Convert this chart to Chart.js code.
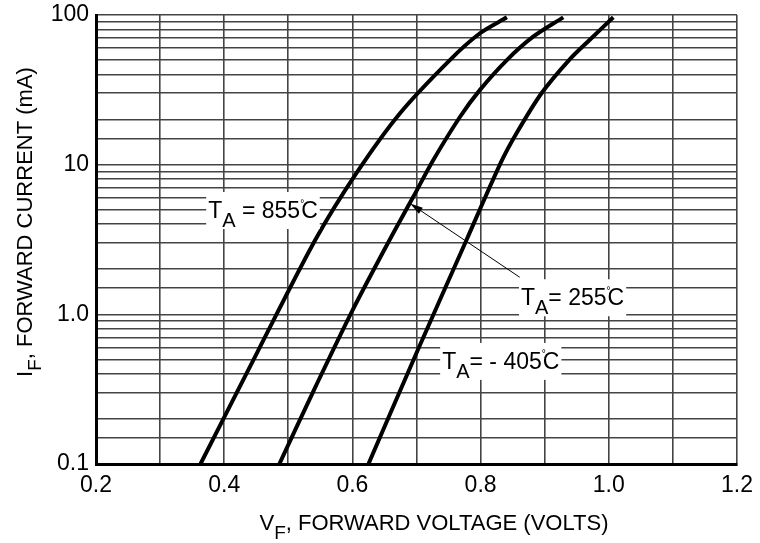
<!DOCTYPE html>
<html lang="en">
<head>
<meta charset="UTF-8">
<title>Forward Voltage vs Forward Current</title>
<script src="https://cdn.jsdelivr.net/npm/chart.js"></script>
<style>
  html, body { margin: 0; padding: 0; background: #fff; }
  #wrap { width: 760px; height: 543px; }
</style>
</head>
<body>
<div id="wrap"><canvas id="vfChart" width="760" height="543"></canvas></div>
<script>
// curves: forward voltage (V) vs forward current (mA)
const vf85 = [0.363, 0.452, 0.542, 0.606, 0.674, 0.752, 0.799, 0.841];
const if85 = [0.1, 0.562, 3.14, 8.75, 22.0, 50.0, 75.5, 96.5];

const vf25 = [0.486, 0.542, 0.599, 0.658, 0.695, 0.726, 0.768, 0.799, 0.841, 0.882, 0.929];
const if25 = [0.1, 0.325, 1.04, 3.14, 6.1, 10.7, 20.9, 31.6, 50.0, 71.6, 96.5];

const vfM40 = [0.625, 0.702, 0.778, 0.831, 0.856, 0.895, 0.938, 0.970, 1.007];
const ifM40 = [0.1, 0.578, 3.14, 10.2, 16.2, 30.0, 50.0, 68.1, 96.5];

// axis grid and tick labels
const xGrid = [0.2, 0.3, 0.4, 0.5, 0.6, 0.7, 0.8, 0.9, 1.0, 1.1, 1.2];
const xLabels = { 0.2: '0.2', 0.4: '0.4', 0.6: '0.6', 0.8: '0.8', 1.0: '1.0', 1.2: '1.2' };
const yGrid = [0.1, 0.15, 0.2, 0.3, 0.4, 0.5, 0.6, 0.7, 0.8, 0.9,
               1, 1.5, 2, 3, 4, 5, 6, 7, 8, 9,
               10, 15, 20, 30, 40, 50, 60, 70, 80, 90, 100];
const yLabels = { 0.1: '0.1', 1: '1.0', 10: '10', 100: '100' };

// curve labels (text runs, anchored at left/baseline in data units)
const curveLabels = [
  { v: 0.375, i: 4.40, runs: [{ t: 'T' }, { t: 'A', sub: true }, { t: ' = 855' }, { t: '°', deg: true }, { t: 'C' }] },
  { v: 0.863, i: 1.15, runs: [{ t: 'T' }, { t: 'A', sub: true }, { t: '= 255' }, { t: '°', deg: true }, { t: 'C' }] },
  { v: 0.740, i: 0.432, runs: [{ t: 'T' }, { t: 'A', sub: true }, { t: '= - 405' }, { t: '°', deg: true }, { t: 'C' }] }
];
// arrow pointing from the 25 label to its curve
const arrowFrom = { v: 0.861, i: 1.77 };
const arrowTo = { v: 0.690, i: 5.5 };

const FONT = '"Liberation Sans", Arial, sans-serif';
Chart.defaults.font.family = FONT;
Chart.defaults.color = '#000';

function pts(xs, ys) {
  return xs.map((v, k) => ({ x: v, y: ys[k] }));
}

function fontFor(r, size) {
  if (r.sub) return Math.round(size * 0.85) + 'px ' + FONT;
  if (r.deg) return Math.round(size * 0.42) + 'px ' + FONT;
  return size + 'px ' + FONT;
}

function runsWidth(ctx, runs, size) {
  let w = 0;
  runs.forEach(r => {
    ctx.font = fontFor(r, size);
    w += ctx.measureText(r.t).width + (r.deg ? -3 : 0);
  });
  return w;
}

function drawRuns(ctx, x, y, runs, size) {
  let cx = x;
  ctx.textAlign = 'left';
  ctx.textBaseline = 'alphabetic';
  runs.forEach(r => {
    ctx.font = fontFor(r, size);
    let dy = 0;
    if (r.sub) dy = size * 0.4;
    if (r.deg) dy = -size * 0.5;
    ctx.fillText(r.t, cx, y + dy);
    cx += ctx.measureText(r.t).width + (r.deg ? -3 : 0);
  });
}

const annotations = {
  id: 'annotations',
  afterDatasetsDraw(chart) {
    const { ctx, scales: { x, y } } = chart;
    ctx.save();

    // arrow
    const x1 = x.getPixelForValue(arrowFrom.v), y1 = y.getPixelForValue(arrowFrom.i);
    const x2 = x.getPixelForValue(arrowTo.v), y2 = y.getPixelForValue(arrowTo.i);
    const ang = Math.atan2(y2 - y1, x2 - x1);
    ctx.strokeStyle = '#000';
    ctx.lineWidth = 1;
    ctx.beginPath();
    ctx.moveTo(x1, y1);
    ctx.lineTo(x2 - 10 * Math.cos(ang), y2 - 10 * Math.sin(ang));
    ctx.stroke();
    ctx.fillStyle = '#000';
    ctx.beginPath();
    ctx.moveTo(x2, y2);
    ctx.lineTo(x2 - 13 * Math.cos(ang) + 3.5 * Math.sin(ang), y2 - 13 * Math.sin(ang) - 3.5 * Math.cos(ang));
    ctx.lineTo(x2 - 13 * Math.cos(ang) - 3.5 * Math.sin(ang), y2 - 13 * Math.sin(ang) + 3.5 * Math.cos(ang));
    ctx.closePath();
    ctx.fill();

    // curve labels on white boxes
    const size = 23;
    curveLabels.forEach(l => {
      const lx = x.getPixelForValue(l.v);
      const ly = y.getPixelForValue(l.i);
      const w = runsWidth(ctx, l.runs, size);
      ctx.fillStyle = '#fff';
      ctx.fillRect(lx - 2, ly - 26, w + 4, 37);
      ctx.fillStyle = '#000';
      drawRuns(ctx, lx, ly, l.runs, size);
    });
    ctx.restore();
  },
  afterDraw(chart) {
    const { ctx } = chart;
    ctx.save();
    ctx.fillStyle = '#000';
    const size = 22;

    // x title
    const xRuns = [{ t: 'V' }, { t: 'F', sub: true }, { t: ', FORWARD VOLTAGE (VOLTS)' }];
    const xw = runsWidth(ctx, xRuns, size);
    drawRuns(ctx, 434 - xw / 2, 530, xRuns, size);

    // y title, rotated
    const yRuns = [{ t: 'I' }, { t: 'F', sub: true }, { t: ', FORWARD CURRENT (mA)' }];
    const yw = runsWidth(ctx, yRuns, size);
    ctx.translate(32, 222);
    ctx.rotate(-Math.PI / 2);
    drawRuns(ctx, -yw / 2, 0, yRuns, size);
    ctx.restore();
  }
};

const lineStyle = {
  borderColor: '#000',
  borderWidth: 4,
  pointRadius: 0,
  fill: false,
  tension: 0.3
};

new Chart(document.getElementById('vfChart'), {
  type: 'line',
  data: {
    datasets: [
      Object.assign({ label: 'TA = 85°C', data: pts(vf85, if85) }, lineStyle),
      Object.assign({ label: 'TA = 25°C', data: pts(vf25, if25) }, lineStyle),
      Object.assign({ label: 'TA = -40°C', data: pts(vfM40, ifM40) }, lineStyle)
    ]
  },
  options: {
    responsive: false,
    animation: false,
    layout: { padding: { left: 0, top: 15, right: 23, bottom: 0 } },
    plugins: {
      legend: { display: false },
      tooltip: { enabled: false }
    },
    scales: {
      x: {
        type: 'linear',
        min: 0.2,
        max: 1.2,
        afterBuildTicks: s => { s.ticks = xGrid.map(v => ({ value: v })); },
        afterFit: s => { s.height = 79; s.paddingLeft = 0; s.paddingRight = 0; },
        ticks: {
          autoSkip: false,
          maxRotation: 0,
          padding: 8,
          font: { size: 23 },
          color: '#000',
          callback: v => xLabels[Math.round(v * 10) / 10] || ''
        },
        grid: { color: '#444', lineWidth: 1.6, drawTicks: false },
        border: { display: true, color: '#000', width: 3 }
      },
      y: {
        type: 'logarithmic',
        min: 0.1,
        max: 100,
        afterBuildTicks: s => { s.ticks = yGrid.map(v => ({ value: v })); },
        afterFit: s => { s.width = 96; s.paddingTop = 0; s.paddingBottom = 0; },
        ticks: {
          autoSkip: false,
          padding: 7,
          font: { size: 23 },
          color: '#000',
          callback: v => yLabels[v] || ''
        },
        grid: { color: '#444', lineWidth: 1.6, drawTicks: false },
        border: { display: true, color: '#000', width: 3 }
      }
    }
  },
  plugins: [annotations]
});
</script>
</body>
</html>
